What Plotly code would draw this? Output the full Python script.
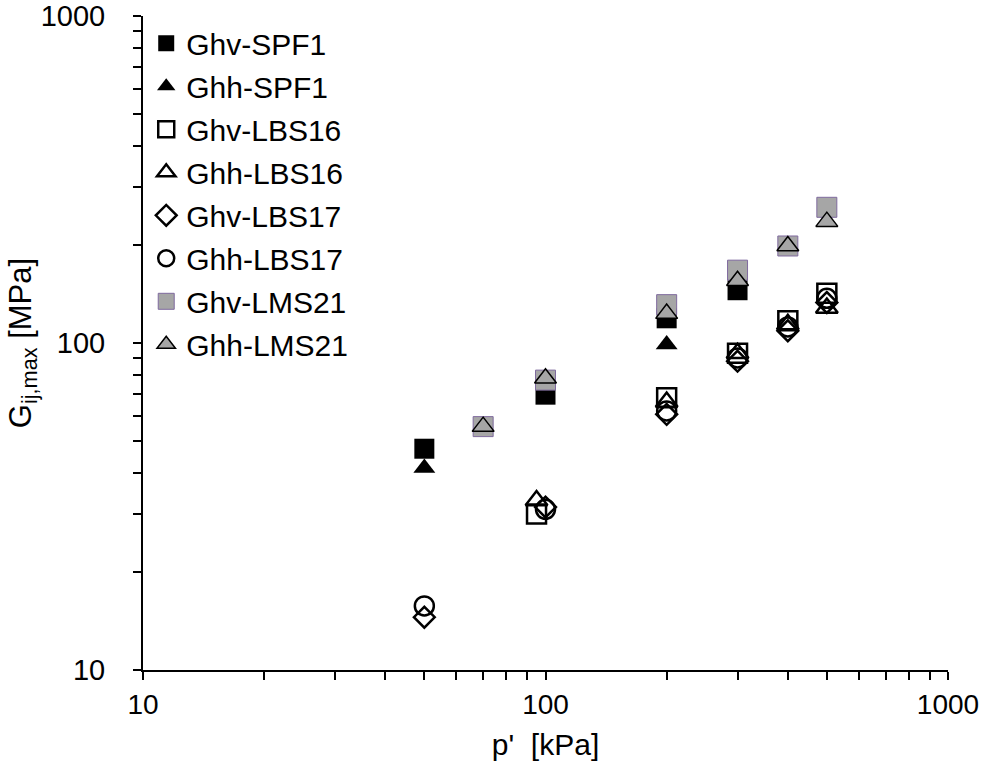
import plotly.graph_objects as go

# ---- data ----
p_spf1_hv = [50, 100, 200, 300]
g_spf1_hv = [47.5, 69.5, 119, 145]
p_spf1_hh = [50, 200]
g_spf1_hh = [41.5, 99]

p_lbs16_hv = [95, 200, 300, 400, 500]
g_lbs16_hv = [30, 68, 93, 117, 142]
p_lbs16_hh = [95, 200, 300, 400, 500]
g_lbs16_hh = [33, 66, 93, 114, 128]

p_lbs17_hv = [50, 100, 200, 300, 400, 500]
g_lbs17_hv = [14.5, 31.5, 60.5, 88, 109, 133]
p_lbs17_hh = [50, 100, 200, 300, 400, 500]
g_lbs17_hh = [15.7, 31, 62, 90, 112, 137]

p_lms21_hv = [70, 100, 200, 300, 400, 500]
g_lms21_hv = [55.5, 77, 131, 167, 198, 260]
p_lms21_hh = [70, 100, 200, 300, 400, 500]
g_lms21_hh = [55.5, 78, 123, 155, 198, 235]

x_ticks = [10, 100, 1000]
y_ticks = [10, 100, 1000]
minor_vals = [20, 30, 40, 50, 60, 70, 80, 90, 200, 300, 400, 500, 600, 700, 800, 900]

GREY = "#A6A6A6"
PURPLE = "#7F6A9E"

series = [
    ("Ghv-SPF1", p_spf1_hv, g_spf1_hv, dict(symbol="square", size=20, color="black", line=dict(color="black", width=0))),
    ("Ghh-SPF1", p_spf1_hh, g_spf1_hh, dict(symbol="triangle-up", size=19, color="black", line=dict(color="black", width=0))),
    ("Ghv-LBS16", p_lbs16_hv, g_lbs16_hv, dict(symbol="square-open", size=19, color="black", line=dict(color="black", width=2.5))),
    ("Ghh-LBS16", p_lbs16_hh, g_lbs16_hh, dict(symbol="triangle-up-open", size=19, color="black", line=dict(color="black", width=2.5))),
    ("Ghv-LBS17", p_lbs17_hv, g_lbs17_hv, dict(symbol="diamond-open", size=16, color="black", line=dict(color="black", width=2.5))),
    ("Ghh-LBS17", p_lbs17_hh, g_lbs17_hh, dict(symbol="circle-open", size=19, color="black", line=dict(color="black", width=2.5))),
    ("Ghv-LMS21", p_lms21_hv, g_lms21_hv, dict(symbol="square", size=20, color=GREY, line=dict(color=PURPLE, width=1))),
    ("Ghh-LMS21", p_lms21_hh, g_lms21_hh, dict(symbol="triangle-up", size=19, color=GREY, line=dict(color="black", width=1.5))),
]

fig = go.Figure()
for name, xs, ys, mk in series:
    fig.add_trace(go.Scatter(x=xs, y=ys, mode="markers", name=name, marker=mk,
                             legendgroup=name))

FONT = "Liberation Sans, Arial, sans-serif"

axis_common = dict(
    type="log", range=[1, 3], showgrid=False, zeroline=False, automargin=False,
    showline=True, linecolor="black", linewidth=2,
    ticks="outside", ticklen=8, tickwidth=2, tickcolor="black",
    tickmode="array", ticklabeloverflow="allow",
    minor=dict(ticks="outside", ticklen=8, tickwidth=2, tickcolor="black",
               tickmode="array", tickvals=minor_vals, showgrid=False),
)

fig.update_layout(
    width=988, height=773,
    paper_bgcolor="white", plot_bgcolor="white",
    margin=dict(l=143, r=40, t=16, b=103, autoexpand=False),
    font=dict(family=FONT, color="black"),
    showlegend=True,
    legend=dict(x=0.004, y=0.998, xanchor="left", yanchor="top",
                font=dict(family=FONT, size=30, color="black"),
                bgcolor="rgba(0,0,0,0)", tracegroupgap=1,
                itemwidth=30),
    xaxis=dict(axis_common, tickvals=x_ticks, ticktext=[str(v) for v in x_ticks],
               tickfont=dict(family=FONT, size=28, color="black"),
               ticklabelstandoff=0,
               title=dict(text="p'  [kPa]", font=dict(family=FONT, size=30), standoff=15)),
    yaxis=dict(axis_common, tickvals=y_ticks, ticktext=[str(v) for v in y_ticks],
               tickfont=dict(family=FONT, size=29, color="black"),
               ticklabelstandoff=22,
               title=dict(text="G<sub>ij,max</sub> [MPa]", font=dict(family=FONT, size=31), standoff=0)),
)

fig.write_html("out.html", config={"displayModeBar": False},
               post_script="document.body.style.margin='0';document.body.style.overflow='hidden';")
